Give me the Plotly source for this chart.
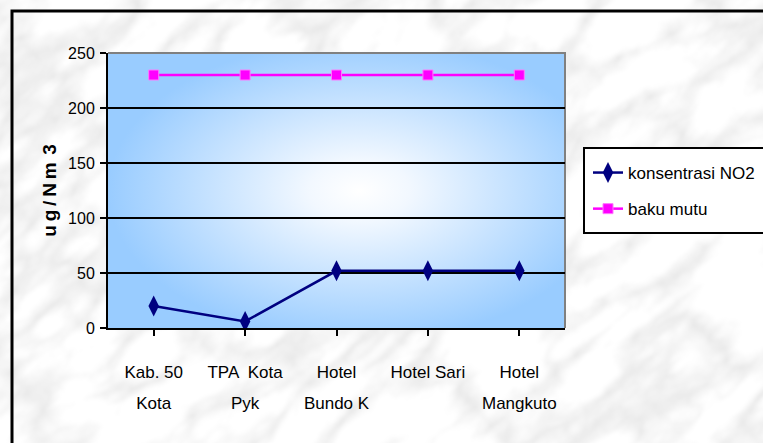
import base64
import plotly.graph_objects as go

# Sampling locations (two label lines) and measured values
lokasi_baris1 = ["Kab. 50", "TPA  Kota", "Hotel", "Hotel Sari", "Hotel"]
lokasi_baris2 = ["Kota", "Pyk", "Bundo K", "", "Mangkuto"]
konsentrasi_no2 = [20, 6, 52, 52, 52]
baku_mutu = [230, 230, 230, 230, 230]
y_ticks = [0, 50, 100, 150, 200, 250]

W, H = 763, 443
L, R, T, B = 108, 198, 53, 115
pw, ph = W - L - R, H - T - B
pos = list(range(len(lokasi_baris1)))


def svg_uri(svg):
    return "data:image/svg+xml;base64," + base64.b64encode(svg.encode()).decode()


def px_x(px):
    return (px - L) / pw


def px_y(py):
    return (H - B - py) / ph


# marble-like page background
marble = f"""<svg xmlns='http://www.w3.org/2000/svg' width='{W}' height='{H}'>
<filter id='f' x='0' y='0' width='100%' height='100%'>
<feTurbulence type='turbulence' baseFrequency='0.009 0.02' numOctaves='5' seed='4'/>
<feColorMatrix type='matrix' values='0.5 0 0 0 0.8  0.5 0 0 0 0.8  0.5 0 0 0 0.8  0 0 0 0 1'/>
<feGaussianBlur stdDeviation='1.8'/>
</filter>
<rect width='100%' height='100%' fill='#eeeeee'/>
<g transform='rotate(-40 380 220)'>
<rect x='-300' y='-400' width='1400' height='1300' filter='url(#f)'/>
</g>
</svg>"""

# radial blue gradient for the plot area
gradient = """<svg xmlns='http://www.w3.org/2000/svg' width='457' height='275' preserveAspectRatio='none' viewBox='0 0 457 275'>
<defs><radialGradient id='g' cx='0.55' cy='0.5' r='0.55'>
<stop offset='0' stop-color='#ffffff'/>
<stop offset='0.2' stop-color='#f2f8ff'/>
<stop offset='1' stop-color='#99ccff'/>
</radialGradient></defs>
<rect width='457' height='275' fill='url(#g)'/>
</svg>"""

FONT = "Liberation Sans, Arial"
font_x = dict(family=FONT, size=17, color="#000000")
font_y = dict(family=FONT, size=16, color="#000000")

fig = go.Figure()
fig.add_trace(go.Scatter(
    x=pos, y=konsentrasi_no2, name="konsentrasi NO2",
    mode="lines+markers", legendgroup="a",
    line=dict(color="#000080", width=2.5),
    marker=dict(symbol="diamond-tall", size=15, color="#000080"),
))
fig.add_trace(go.Scatter(
    x=pos, y=baku_mutu, name="baku mutu",
    mode="lines+markers", legendgroup="b",
    line=dict(color="#ff00ff", width=2.5),
    marker=dict(symbol="square", size=10, color="#ff00ff",
                line=dict(color="#ff77ff", width=1)),
))
# carrier for the second line of the category labels
fig.add_trace(go.Scatter(
    x=pos, y=baku_mutu, xaxis="x2", mode="none",
    showlegend=False, hoverinfo="skip",
))

fig.update_layout(
    width=W, height=H,
    margin=dict(l=L, r=R, t=T, b=B, autoexpand=False),
    paper_bgcolor="#eeeeee",
    plot_bgcolor="rgba(0,0,0,0)",
    showlegend=True,
    legend=dict(
        xref="container", yref="container",
        x=588 / W, y=1 - 155 / H, xanchor="left", yanchor="top",
        bgcolor="rgba(0,0,0,0)", borderwidth=0,
        font=dict(family=FONT, size=17, color="#000000"),
        tracegroupgap=11,
    ),
    images=[
        dict(source=svg_uri(marble), xref="paper", yref="paper",
             x=-L / pw, y=1 + T / ph, sizex=W / pw, sizey=H / ph,
             xanchor="left", yanchor="top", sizing="stretch", layer="below"),
        dict(source=svg_uri(gradient), xref="paper", yref="paper",
             x=0, y=1, sizex=1, sizey=1,
             xanchor="left", yanchor="top", sizing="stretch", layer="below"),
    ],
    shapes=[
        # outer frame of the chart
        dict(type="rect", xref="paper", yref="paper",
             x0=px_x(12), x1=px_x(W + 20), y0=px_y(H + 20), y1=px_y(11),
             line=dict(color="#000000", width=3), layer="above"),
        # legend box
        dict(type="rect", xref="paper", yref="paper",
             x0=px_x(584), x1=px_x(W + 30), y0=px_y(233), y1=px_y(148),
             fillcolor="#ffffff", line=dict(color="#000000", width=2), layer="above"),
        # plot-area border (top and right)
        dict(type="path", xref="paper", yref="paper",
             path="M 0 1 L 1 1 L 1 0", line=dict(color="#808080", width=2), layer="below"),
    ],
    xaxis=dict(
        range=[-0.5, len(pos) - 0.5],
        tickmode="array", tickvals=pos, ticktext=lokasi_baris1,
        tickson="boundaries", ticks="outside", ticklen=6, tickwidth=2, tickcolor="#000000",
        showline=True, linecolor="#000000", linewidth=2,
        showgrid=False, zeroline=False,
        tickfont=font_x, ticklabelstandoff=22,
    ),
    xaxis2=dict(
        overlaying="x", matches="x", side="bottom", anchor="y",
        tickmode="array", tickvals=pos, ticktext=lokasi_baris2,
        showline=False, showgrid=False, zeroline=False, ticks="",
        tickfont=font_x, ticklabelstandoff=63,
    ),
    yaxis=dict(
        range=[0, 250], tickvals=y_ticks,
        ticks="outside", ticklen=6, tickwidth=2, tickcolor="#000000",
        showline=True, linecolor="#000000", linewidth=2,
        showgrid=True, gridcolor="#000000", gridwidth=1.5, zeroline=False,
        tickfont=font_y, ticklabelstandoff=2,
        title=dict(text="u\u2009g\u2009/\u2009N\u2009m\u2009\u20093", standoff=6,
                   font=dict(family=FONT, size=19, color="#000000", weight="bold")),
    ),
)

fig.write_html("out.html")
